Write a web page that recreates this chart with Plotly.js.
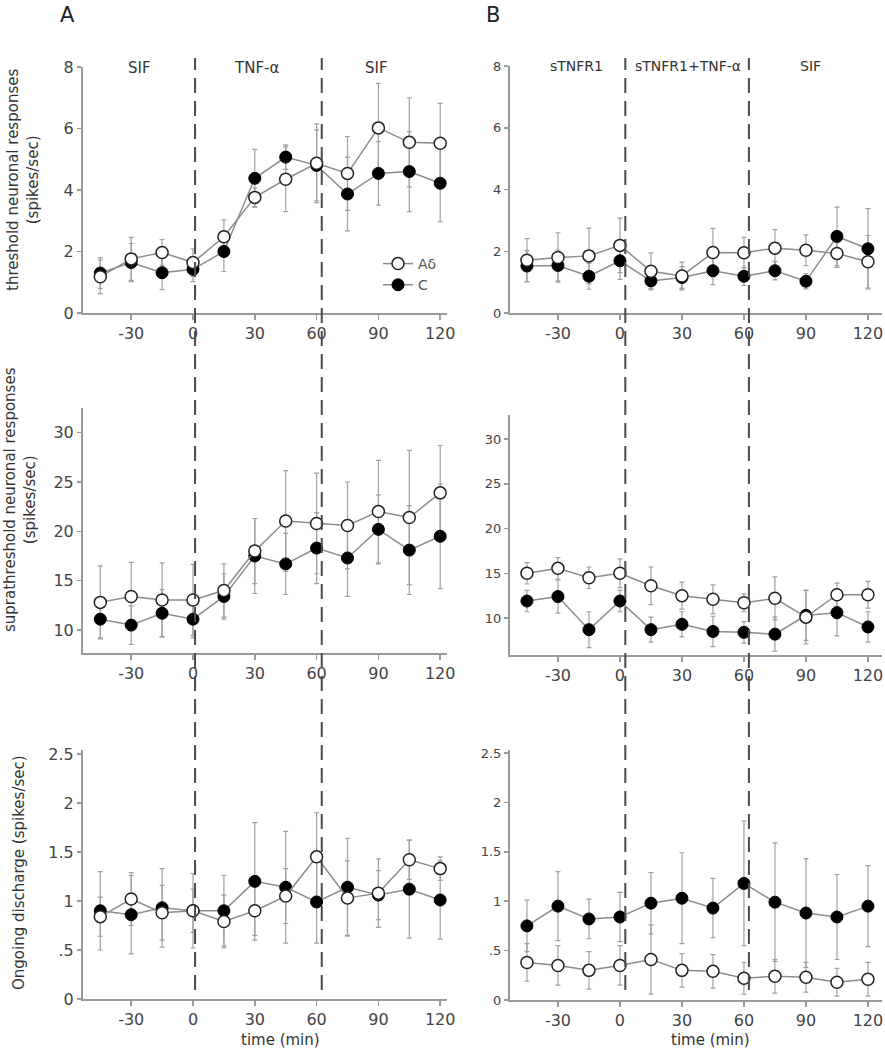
<!DOCTYPE html>
<html>
<head>
<meta charset="utf-8">
<script src="https://cdn.plot.ly/plotly-3.0.1.min.js"></script>
<style>html,body{margin:0;padding:0;background:#fff;}#chart{width:885px;height:1050px;}</style>
</head>
<body>
<div id="chart"></div>
<script>
// ---- data ----
const times = [-45, -30, -15, 0, 15, 30, 45, 60, 75, 90, 105, 120];
const xTickVals = [-30, 0, 30, 60, 90, 120];
const xTickText = ["-30", "0", "30", "60", "90", "120"];

const threshA_Ad = [1.18, 1.76, 1.97, 1.64, 2.48, 3.76, 4.35, 4.87, 4.54, 6.02, 5.55, 5.52];
const threshA_Ad_err = [0.55, 0.7, 0.42, 0.45, 0.55, 0.3, 1.05, 1.28, 1.2, 1.45, 1.45, 1.3];
const threshA_C = [1.3, 1.64, 1.31, 1.42, 2.0, 4.38, 5.07, 4.8, 3.87, 4.54, 4.6, 4.22];
const threshA_C_err = [0.5, 0.62, 0.55, 0.4, 0.65, 0.94, 0.4, 1.15, 1.2, 1.03, 1.3, 1.25];

const threshB_Ad = [1.71, 1.8, 1.85, 2.19, 1.35, 1.2, 1.96, 1.95, 2.1, 2.03, 1.93, 1.66];
const threshB_Ad_err = [0.7, 0.8, 0.9, 0.88, 0.6, 0.45, 0.78, 0.5, 0.6, 0.5, 0.45, 0.85];
const threshB_C = [1.52, 1.54, 1.19, 1.69, 1.04, 1.15, 1.37, 1.19, 1.37, 1.03, 2.48, 2.08];
const threshB_C_err = [0.5, 0.5, 0.42, 0.6, 0.25, 0.35, 0.45, 0.3, 0.3, 0.25, 0.95, 1.3];

const supraA_Ad = [12.8, 13.4, 13.05, 13.05, 14.0, 18.0, 21.05, 20.8, 20.6, 22.0, 21.4, 23.9];
const supraA_Ad_err = [3.7, 3.45, 3.75, 3.6, 2.7, 3.3, 5.1, 5.1, 4.4, 5.2, 6.8, 4.8];
const supraA_C = [11.1, 10.5, 11.7, 11.1, 13.4, 17.5, 16.7, 18.3, 17.3, 20.2, 18.1, 19.5];
const supraA_C_err = [1.9, 1.95, 2.4, 1.9, 2.3, 3.8, 3.1, 3.6, 3.9, 3.5, 4.5, 5.3];

const supraB_Ad = [15.0, 15.55, 14.5, 15.0, 13.6, 12.5, 12.1, 11.7, 12.2, 10.1, 12.6, 12.6];
const supraB_Ad_err = [1.2, 1.2, 1.2, 1.6, 2.1, 1.5, 1.6, 1.0, 2.4, 3.0, 1.3, 1.5];
const supraB_C = [11.9, 12.4, 8.7, 11.9, 8.7, 9.3, 8.5, 8.4, 8.2, 10.3, 10.6, 9.0];
const supraB_C_err = [1.2, 1.85, 2.0, 1.2, 1.4, 1.4, 1.7, 1.2, 1.9, 2.8, 2.6, 1.7];

const ongoingA_Ad = [0.84, 1.02, 0.88, 0.9, 0.79, 0.9, 1.05, 1.45, 1.03, 1.08, 1.42, 1.33];
const ongoingA_Ad_err = [0.2, 0.27, 0.28, 0.22, 0.27, 0.25, 0.28, 0.45, 0.38, 0.35, 0.2, 0.12];
const ongoingA_C = [0.9, 0.86, 0.93, 0.9, 0.9, 1.2, 1.14, 0.99, 1.14, 1.06, 1.12, 1.01];
const ongoingA_C_err = [0.4, 0.4, 0.4, 0.38, 0.36, 0.6, 0.57, 0.42, 0.5, 0.25, 0.5, 0.4];

const ongoingB_Ad = [0.38, 0.35, 0.3, 0.35, 0.41, 0.3, 0.29, 0.22, 0.24, 0.23, 0.18, 0.21];
const ongoingB_Ad_err = [0.19, 0.2, 0.19, 0.2, 0.35, 0.17, 0.17, 0.16, 0.17, 0.15, 0.14, 0.17];
const ongoingB_C = [0.75, 0.95, 0.82, 0.84, 0.98, 1.03, 0.93, 1.18, 0.99, 0.88, 0.84, 0.95];
const ongoingB_C_err = [0.26, 0.35, 0.2, 0.25, 0.31, 0.46, 0.3, 0.63, 0.6, 0.55, 0.43, 0.41];

const phaseLabelsA = ["SIF", "TNF-α", "SIF"];
const phaseLabelsB = ["sTNFR1", "sTNFR1+TNF-α", "SIF"];
const phaseCentersA = [-26, 31, 89];
const phaseCentersB = [-21, 33, 92];
const phaseBoundsA = [1, 62.5];
const phaseBoundsB = [2.6, 62.4];

// ---- layout helpers ----
const W = 885, H = 1050;
const px = v => v / W;
const py = v => 1 - v / H;
const FONT = "DejaVu Sans, Verdana, sans-serif";
const AXC = "#9a9a9a";
const TXT = "#444";

const errStyle = (arr) => ({type: "data", array: arr, visible: true, color: "#a0a0a0", thickness: 1.2, width: 2.5});
const lineStyle = {color: "#8c8c8c", width: 1.5};

// error bars first (under everything), then lines+markers
function errTraces(ad, adErr, c, cErr, xa, ya) {
  return [
    {x: times, y: c, xaxis: xa, yaxis: ya, type: "scatter", mode: "markers", showlegend: false, hoverinfo: "skip",
     marker: {size: 1, color: "rgba(0,0,0,0)"}, error_y: errStyle(cErr)},
    {x: times, y: ad, xaxis: xa, yaxis: ya, type: "scatter", mode: "markers", showlegend: false, hoverinfo: "skip",
     marker: {size: 1, color: "rgba(0,0,0,0)"}, error_y: errStyle(adErr)}
  ];
}
function markTraces(ad, c, xa, ya, legend) {
  return [
    {x: times, y: c, xaxis: xa, yaxis: ya, type: "scatter", mode: "lines+markers", name: "C",
     showlegend: legend, legendrank: 2, line: lineStyle,
     marker: {symbol: "circle", size: 12, color: "#000", line: {color: "#000", width: 1}}},
    {x: times, y: ad, xaxis: xa, yaxis: ya, type: "scatter", mode: "lines+markers", name: "Aδ",
     showlegend: legend, legendrank: 1, line: lineStyle,
     marker: {symbol: "circle", size: 12, color: "#fff", line: {color: "#222", width: 1.5}}}
  ];
}

const panels = [
  [threshA_Ad, threshA_Ad_err, threshA_C, threshA_C_err, "x", "y", true],
  [threshB_Ad, threshB_Ad_err, threshB_C, threshB_C_err, "x2", "y2", false],
  [supraA_Ad, supraA_Ad_err, supraA_C, supraA_C_err, "x3", "y3", false],
  [supraB_Ad, supraB_Ad_err, supraB_C, supraB_C_err, "x4", "y4", false],
  [ongoingA_Ad, ongoingA_Ad_err, ongoingA_C, ongoingA_C_err, "x5", "y5", false],
  [ongoingB_Ad, ongoingB_Ad_err, ongoingB_C, ongoingB_C_err, "x6", "y6", false]
];
let traces = [];
panels.forEach(p => { traces = traces.concat(errTraces(p[0], p[1], p[2], p[3], p[4], p[5])); });
panels.forEach(p => { traces = traces.concat(markTraces(p[0], p[2], p[4], p[5], p[6])); });

function xax(domPx, range, anchor) {
  return {domain: [px(domPx[0]), px(domPx[1])], range: range, anchor: anchor,
    showline: true, linecolor: AXC, linewidth: 2, ticks: "outside", ticklen: 5, tickwidth: 1.5, tickcolor: AXC,
    tickvals: xTickVals, ticktext: xTickText, showgrid: false, zeroline: false,
    tickfont: {family: FONT, size: 16, color: TXT}, fixedrange: true};
}
function yax(domPx, range, anchor, tv, tt, fs) {
  return {domain: [py(domPx[1]), py(domPx[0])], range: range, anchor: anchor,
    showline: true, linecolor: AXC, linewidth: 2, ticks: "outside", ticklen: 4, tickwidth: 1.5, tickcolor: AXC,
    tickvals: tv, ticktext: tt, showgrid: false, zeroline: false,
    tickfont: {family: FONT, size: fs, color: TXT}, fixedrange: true};
}

const xA = [83, 447], xB = [510, 882];
const rA = [-53.4, 123.3], rB = [-53.2, 126.8];

const layout = {
  width: W, height: H,
  margin: {l: 0, r: 0, t: 0, b: 0, pad: 0},
  paper_bgcolor: "#fff", plot_bgcolor: "rgba(0,0,0,0)",
  font: {family: FONT, color: TXT},
  showlegend: true,
  legend: {x: px(378), y: py(248), xanchor: "left", yanchor: "top", bgcolor: "rgba(0,0,0,0)",
    font: {family: FONT, size: 14, color: "#555"}, itemwidth: 30, tracegroupgap: 0},
  xaxis: xax(xA, rA, "y"),
  xaxis2: xax(xB, rB, "y2"),
  xaxis3: xax(xA, rA, "y3"),
  xaxis4: xax(xB, rB, "y4"),
  xaxis5: xax(xA, rA, "y5"),
  xaxis6: xax(xB, rB, "y6"),
  yaxis: yax([67, 313], [0, 8], "x", [0, 2, 4, 6, 8], ["0", "2", "4", "6", "8"], 16),
  yaxis2: yax([66, 313], [0, 8], "x2", [0, 2, 4, 6, 8], ["0", "2", "4", "6", "8"], 13),
  yaxis3: yax([408, 653], [7.67, 32.5], "x3", [10, 15, 20, 25, 30], ["10", "15", "20", "25", "30"], 16),
  yaxis4: yax([415, 655], [5.87, 32.68], "x4", [10, 15, 20, 25, 30], ["10", "15", "20", "25", "30"], 13),
  yaxis5: yax([750, 999], [0, 2.54], "x5", [0, 0.5, 1, 1.5, 2, 2.5], ["0", ".5", "1", "1.5", "2", "2.5"], 16),
  yaxis6: yax([750, 1000], [0, 2.53], "x6", [0, 0.5, 1, 1.5, 2, 2.5], ["0", ".5", "1", "1.5", "2", "2.5"], 13),
  shapes: [],
  annotations: []
};

// dashed phase boundaries spanning all three rows
const dashLine = {color: "#4a4a4a", width: 2, dash: "15px,8px"};
phaseBoundsA.forEach(b => layout.shapes.push({type: "line", xref: "x", yref: "paper", x0: b, x1: b, y0: py(990), y1: py(58), line: dashLine}));
phaseBoundsB.forEach(b => layout.shapes.push({type: "line", xref: "x2", yref: "paper", x0: b, x1: b, y0: py(990), y1: py(58), line: dashLine}));

// phase labels
phaseLabelsA.forEach((t, i) => layout.annotations.push({text: t, xref: "x", yref: "paper", x: phaseCentersA[i], y: py(68),
  showarrow: false, xanchor: "center", yanchor: "middle", font: {family: FONT, size: 15, color: "#333"}}));
phaseLabelsB.forEach((t, i) => layout.annotations.push({text: t, xref: "x2", yref: "paper", x: phaseCentersB[i], y: py(66),
  showarrow: false, xanchor: "center", yanchor: "middle", font: {family: FONT, size: 14, color: "#333"}}));

// panel letters
layout.annotations.push({text: "A", xref: "paper", yref: "paper", x: px(67), y: py(15), showarrow: false,
  xanchor: "center", yanchor: "middle", font: {family: FONT, size: 21, color: "#222"}});
layout.annotations.push({text: "B", xref: "paper", yref: "paper", x: px(493), y: py(15), showarrow: false,
  xanchor: "center", yanchor: "middle", font: {family: FONT, size: 21, color: "#222"}});

// y-axis titles
function ytitle(text, xc, yc) {
  layout.annotations.push({text: text, xref: "paper", yref: "paper", x: px(xc), y: py(yc), showarrow: false,
    textangle: -90, xanchor: "center", yanchor: "middle", font: {family: FONT, size: 15, color: "#333"}});
}
ytitle("threshold neuronal responses<br>(spikes/sec)", 23, 180);
ytitle("suprathreshold neuronal responses<br>(spikes/sec)", 20, 500);
ytitle("Ongoing discharge (spikes/sec)", 19, 873);

// x-axis titles
layout.annotations.push({text: "time (min)", xref: "paper", yref: "paper", x: px(280), y: py(1040), showarrow: false,
  xanchor: "center", yanchor: "middle", font: {family: FONT, size: 15, color: "#333"}});
layout.annotations.push({text: "time (min)", xref: "paper", yref: "paper", x: px(710), y: py(1040), showarrow: false,
  xanchor: "center", yanchor: "middle", font: {family: FONT, size: 15, color: "#333"}});

Plotly.newPlot("chart", traces, layout, {staticPlot: true, displayModeBar: false});
</script>
</body>
</html>
